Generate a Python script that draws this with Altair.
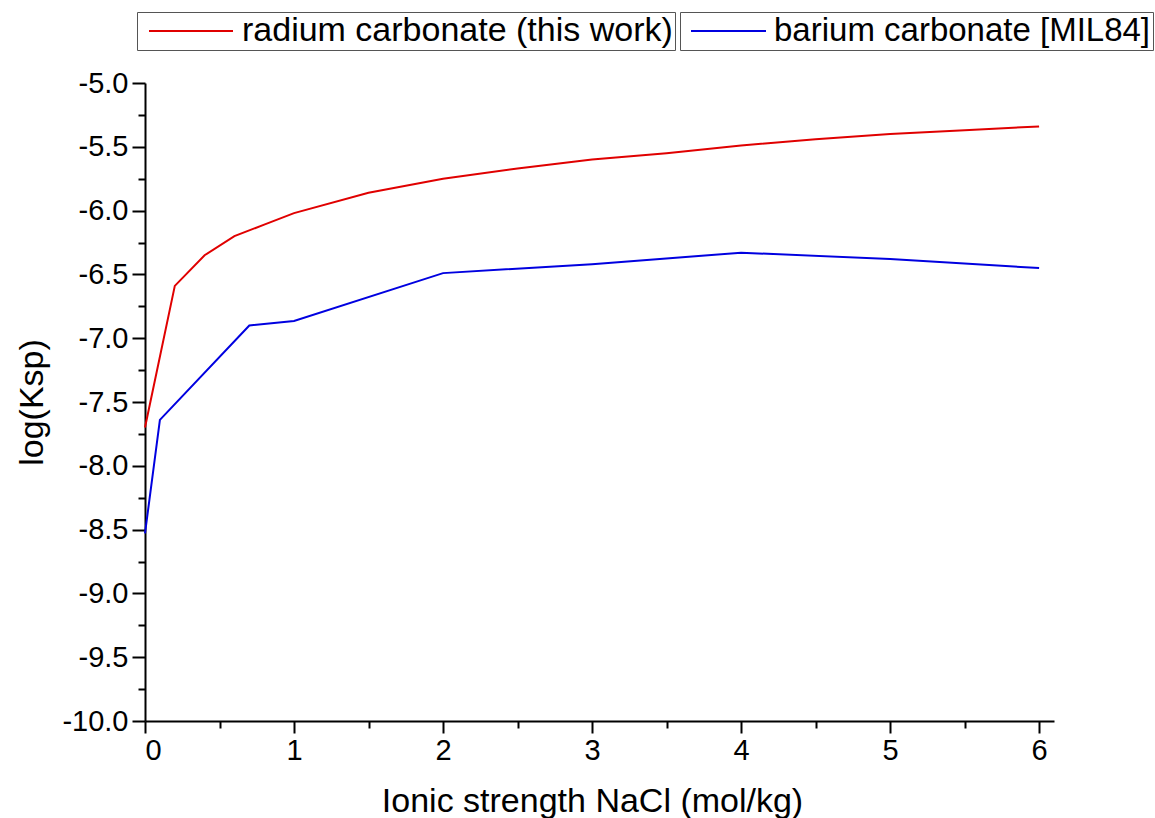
import altair as alt
import pandas as pd

# ---- data ----
ra_name = "radium carbonate (this work)"
ba_name = "barium carbonate [MIL84]"

ra_x = [0.0, 0.2, 0.4, 0.6, 0.8, 1.0, 1.5, 2.0, 2.5, 3.0, 3.5, 4.0, 4.5, 5.0, 5.5, 6.0]
ra_y = [-7.70, -6.59, -6.35, -6.20, -6.11, -6.02, -5.86, -5.75, -5.67, -5.60,
        -5.55, -5.49, -5.44, -5.40, -5.37, -5.34]

ba_x = [0.0, 0.1, 0.7, 1.0, 2.0, 3.0, 4.0, 5.0, 6.0]
ba_y = [-8.53, -7.64, -6.90, -6.865, -6.49, -6.42, -6.33, -6.38, -6.45]

x_tick_values = [0, 0.5, 1, 1.5, 2, 2.5, 3, 3.5, 4, 4.5, 5, 5.5, 6]
y_tick_values = [-10, -9.75, -9.5, -9.25, -9, -8.75, -8.5, -8.25, -8, -7.75, -7.5,
                 -7.25, -7, -6.75, -6.5, -6.25, -6, -5.75, -5.5, -5.25, -5]

FONT = "Liberation Sans"

df_ra = pd.DataFrame({"I": ra_x, "logK": ra_y, "series": ra_name})
df_ba = pd.DataFrame({"I": ba_x, "logK": ba_y, "series": ba_name})

x_axis = alt.Axis(
    values=x_tick_values,
    format=".0f",
    labelExpr="datum.value % 1 === 0 ? datum.label : ''",
    tickSize={"condition": {"test": "datum.value % 1 === 0", "value": 12}, "value": 7},
    labelPadding=3,
    titleX=447,
    titleY=80,
    titleBaseline="middle",
)
y_axis = alt.Axis(
    values=y_tick_values,
    labelExpr="(datum.value * 2) % 1 === 0 ? replace(format(datum.value, '.1f'), '\u2212', '-') : ''",
    tickSize={"condition": {"test": "(datum.value * 2) % 1 === 0", "value": 13}, "value": 7},
    labelPadding=4,
    titleX=-113,
    titleBaseline="middle",
)

x_enc = alt.X("I:Q", scale=alt.Scale(domain=[0, 6.1], nice=False, zero=False),
              axis=x_axis, title="Ionic strength NaCl (mol/kg)")
y_enc = alt.Y("logK:Q", scale=alt.Scale(domain=[-10, -5], nice=False, zero=False),
              axis=y_axis, title="log(Ksp)")


def make_legend(lx, sym_len, sym_off, lab_off, font_size):
    return alt.Legend(
        orient="none", legendX=lx, legendY=-71, direction="vertical",
        symbolType="stroke", symbolSize=sym_len * sym_len, symbolStrokeWidth=2,
        labelFontSize=font_size, labelFont=FONT, labelColor="black", labelOffset=lab_off,
        labelLimit=1000, clipHeight=34,
        strokeColor="#555555", fillColor="white", padding=2, symbolOffset=sym_off,
    )


red = alt.Chart(df_ra).mark_line(strokeWidth=2).encode(
    x=x_enc, y=y_enc,
    color=alt.Color("series:N", scale=alt.Scale(domain=[ra_name], range=["#e00000"]),
                    legend=make_legend(-8, 84, 9, 8, 34), title=None),
)
blue = alt.Chart(df_ba).mark_line(strokeWidth=2).encode(
    x=x_enc, y=y_enc,
    color=alt.Color("series:N", scale=alt.Scale(domain=[ba_name], range=["#0000e0"]),
                    legend=make_legend(535, 75, 8, 7, 33), title=None),
)

chart = (
    alt.layer(red, blue)
    .resolve_scale(color="independent")
    .resolve_legend(color="independent")
    .properties(
        width=909, height=638,
        autosize=alt.AutoSizeParams(type="none"),
        padding={"left": 145, "top": 83, "right": 101, "bottom": 97},
        background="white",
    )
    .configure_view(stroke=None)
    .configure_axis(
        domainColor="black", domainWidth=2, tickColor="black", tickWidth=2,
        grid=False, labelFont=FONT, labelFontSize=29, labelColor="black",
        titleFont=FONT, titleFontSize=34, titleFontWeight="normal", titleColor="black",
    )
)

chart.save("out.html", embed_options={"renderer": "svg", "actions": False})
